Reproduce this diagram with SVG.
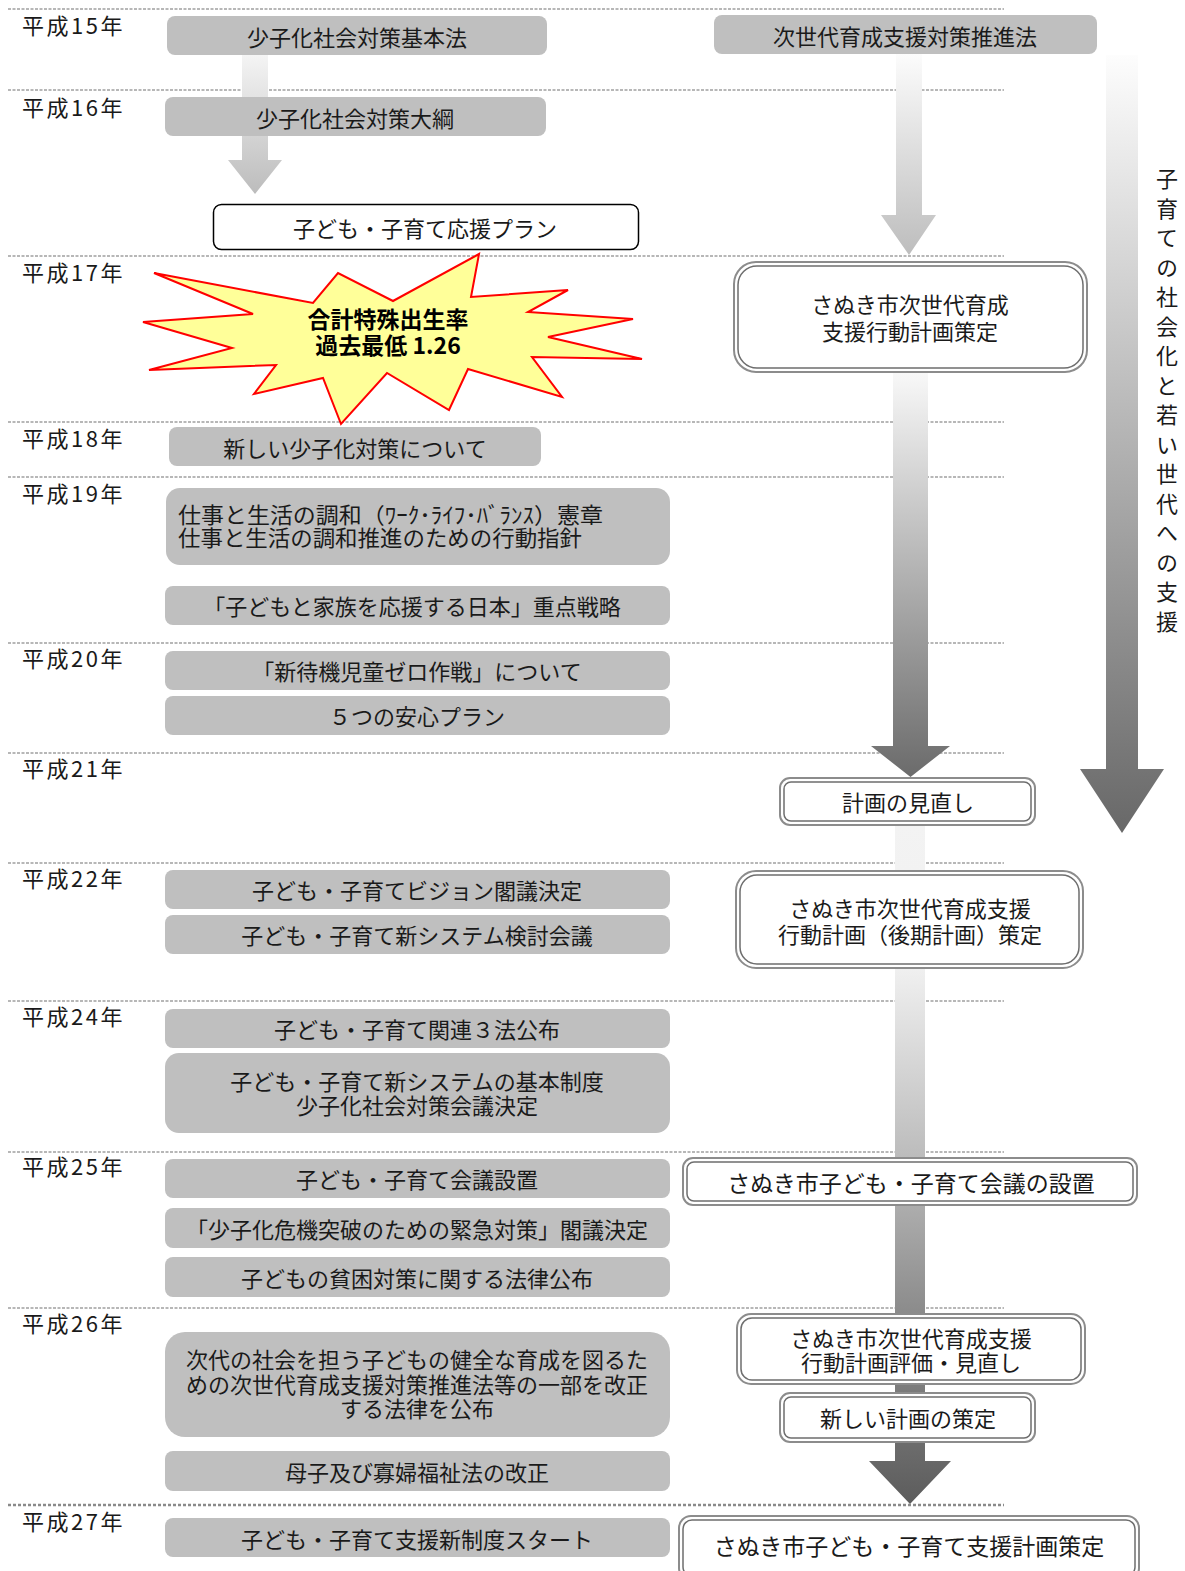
<svg xmlns="http://www.w3.org/2000/svg" width="1185" height="1571" viewBox="0 0 1185 1571">
<style>
text{font-family:"Noto Sans CJK JP","Noto Sans",sans-serif;fill:#1a1a1a}
.yr{font-size:22px;letter-spacing:2.5px;dominant-baseline:central}
.t{font-size:22px;text-anchor:middle;dominant-baseline:central}
.tl{font-size:22px;dominant-baseline:central}
.t24{font-size:23px;text-anchor:middle;dominant-baseline:central}
.bx{fill:#bfbfbf}
.sep{stroke:#a0a0a0;stroke-width:1.5;stroke-dasharray:3 1.5;fill:none}
.sep2{stroke:#8a8a8a;stroke-width:2.5;stroke-dasharray:3 2;fill:none}
.dbo{fill:#fff;stroke:#8c8c8c;stroke-width:2}
.dbi{fill:none;stroke:#6e6e6e;stroke-width:1.5}
.vt{font-size:22px;writing-mode:vertical-rl;letter-spacing:7.5px}
.bold{font-size:23px;font-weight:bold;text-anchor:middle;dominant-baseline:central;fill:#000}
</style>
<defs>
<linearGradient id="gL" gradientUnits="userSpaceOnUse" x1="0" y1="55" x2="0" y2="194"><stop offset="0" stop-color="#f4f4f4"/><stop offset="1" stop-color="#bcbcbc"/></linearGradient>
<linearGradient id="gA" gradientUnits="userSpaceOnUse" x1="0" y1="54" x2="0" y2="255"><stop offset="0" stop-color="#fcfcfc"/><stop offset="1" stop-color="#bdbdbd"/></linearGradient>
<linearGradient id="gB" gradientUnits="userSpaceOnUse" x1="0" y1="373" x2="0" y2="777"><stop offset="0" stop-color="#f8f8f8"/><stop offset="1" stop-color="#6b6b6b"/></linearGradient>
<linearGradient id="gC" gradientUnits="userSpaceOnUse" x1="0" y1="825" x2="0" y2="1504">
<stop offset="0" stop-color="#f3f3f3"/><stop offset="0.211" stop-color="#f0f0f0"/><stop offset="0.489" stop-color="#bcbcbc"/><stop offset="0.56" stop-color="#adadad"/><stop offset="0.719" stop-color="#8b8b8b"/><stop offset="0.822" stop-color="#7d7d7d"/><stop offset="0.907" stop-color="#6d6d6d"/><stop offset="1" stop-color="#5c5c5c"/></linearGradient>
<linearGradient id="gR" gradientUnits="userSpaceOnUse" x1="0" y1="55" x2="0" y2="833"><stop offset="0" stop-color="#fdfdfd"/><stop offset="1" stop-color="#686868"/></linearGradient>
</defs>

<g id="separators">
<line class="sep" x1="8" y1="9" x2="1004" y2="9"/>
<line class="sep" x1="8" y1="90" x2="1004" y2="90"/>
<line class="sep" x1="8" y1="256" x2="1004" y2="256"/>
<line class="sep" x1="8" y1="422" x2="1004" y2="422"/>
<line class="sep" x1="8" y1="477" x2="1004" y2="477"/>
<line class="sep" x1="8" y1="643" x2="1004" y2="643"/>
<line class="sep" x1="8" y1="753" x2="1004" y2="753"/>
<line class="sep" x1="8" y1="863" x2="1004" y2="863"/>
<line class="sep" x1="8" y1="1001" x2="1004" y2="1001"/>
<line class="sep" x1="8" y1="1152" x2="1004" y2="1152"/>
<line class="sep" x1="8" y1="1308" x2="1004" y2="1308"/>
<line class="sep2" x1="8" y1="1505" x2="1004" y2="1505"/>
</g>

<g id="years">
<text class="yr" x="22" y="24">平成15年</text>
<text class="yr" x="22" y="106">平成16年</text>
<text class="yr" x="22" y="271">平成17年</text>
<text class="yr" x="22" y="437">平成18年</text>
<text class="yr" x="22" y="492">平成19年</text>
<text class="yr" x="22" y="657">平成20年</text>
<text class="yr" x="22" y="767">平成21年</text>
<text class="yr" x="22" y="877">平成22年</text>
<text class="yr" x="22" y="1015">平成24年</text>
<text class="yr" x="22" y="1165">平成25年</text>
<text class="yr" x="22" y="1322">平成26年</text>
<text class="yr" x="22" y="1520">平成27年</text>
</g>

<g id="connectors">
<polygon fill="url(#gL)" points="242,55 268,55 268,160 282,160 255,194 228,160 242,160"/>
<polygon fill="url(#gA)" points="896,54 922,54 922,215 936,215 909,255 881,215 896,215"/>
<polygon fill="url(#gB)" points="893,373 928,373 928,746 950,746 910.5,777 871,746 893,746"/>
<polygon fill="url(#gC)" points="895,825 925,825 925,1461 951,1461 910,1504 869,1461 895,1461"/>
<polygon fill="url(#gR)" points="1106,55 1138,55 1138,769 1164,769 1122,833 1080,769 1106,769"/>
</g>

<g id="theme-label"><text class="vt" x="1167" y="168">子育ての社会化と若い世代への支援</text></g>

<g id="n-kihonhou"><rect class="bx" x="167" y="16" width="380" height="39" rx="8"/><text class="t" x="357" y="36">少子化社会対策基本法</text></g>
<g id="n-taikou"><rect class="bx" x="165" y="97" width="381" height="39" rx="8"/><text class="t" x="355" y="117">少子化社会対策大綱</text></g>
<g id="n-ouen-plan"><rect x="213.5" y="204.5" width="425" height="45" rx="8" fill="#fff" stroke="#000" stroke-width="1.5"/><text class="t" x="425" y="227">子ども・子育て応援プラン</text></g>
<g id="n-burst">
<polygon points="479,254 471,297 568,290 528,312 633,319 548,337 642,359 532,357 562,397 468,369 449,410 387,373 341,424 323,378 254,394 276,365 149,370 232,348 143,322 253,314 154,273 313,303 338,273 393,301" fill="#ffff99" stroke="#ff0000" stroke-width="2" stroke-linejoin="miter"/>
<text class="bold" x="388" y="318">合計特殊出生率</text>
<text class="bold" x="388" y="344">過去最低 1.26</text>
</g>
<g id="n-atarashii"><rect class="bx" x="169" y="427" width="372" height="39" rx="8"/><text class="t" x="355" y="447">新しい少子化対策について</text></g>
<g id="n-wlb"><rect class="bx" x="166" y="488" width="504" height="77" rx="14"/>
<text class="tl" x="178" y="513" textLength="425" lengthAdjust="spacingAndGlyphs">仕事と生活の調和（ﾜｰｸ･ﾗｲﾌ･ﾊﾞﾗﾝｽ）憲章</text>
<text class="tl" x="178" y="536" textLength="404" lengthAdjust="spacingAndGlyphs">仕事と生活の調和推進のための行動指針</text></g>
<g id="n-juten"><rect class="bx" x="165" y="586" width="505" height="39" rx="8"/><text class="t" x="412" y="605">「子どもと家族を応援する日本」重点戦略</text></g>
<g id="n-zero"><rect class="bx" x="165" y="651" width="505" height="39" rx="8"/><text class="t" x="417" y="670">「新待機児童ゼロ作戦」について</text></g>
<g id="n-anshin"><rect class="bx" x="165" y="696" width="505" height="39" rx="8"/><text class="t" x="417" y="715">５つの安心プラン</text></g>
<g id="n-vision"><rect class="bx" x="165" y="870" width="505" height="39" rx="8"/><text class="t" x="417" y="889">子ども・子育てビジョン閣議決定</text></g>
<g id="n-kentou"><rect class="bx" x="165" y="915" width="505" height="39" rx="8"/><text class="t" x="417" y="934">子ども・子育て新システム検討会議</text></g>
<g id="n-3hou"><rect class="bx" x="165" y="1009" width="505" height="39" rx="8"/><text class="t" x="417" y="1028">子ども・子育て関連３法公布</text></g>
<g id="n-kihonseido"><rect class="bx" x="165" y="1053" width="505" height="80" rx="14"/>
<text class="t" x="417" y="1080">子ども・子育て新システムの基本制度</text>
<text class="t" x="417" y="1104">少子化社会対策会議決定</text></g>
<g id="n-kaigi"><rect class="bx" x="165" y="1159" width="505" height="39" rx="8"/><text class="t" x="417" y="1178">子ども・子育て会議設置</text></g>
<g id="n-kinkyu"><rect class="bx" x="165" y="1208" width="505" height="40" rx="8"/><text class="t" x="417" y="1228">「少子化危機突破のための緊急対策」閣議決定</text></g>
<g id="n-hinkon"><rect class="bx" x="165" y="1257" width="505" height="40" rx="8"/><text class="t" x="417" y="1277">子どもの貧困対策に関する法律公布</text></g>
<g id="n-kaisei"><rect class="bx" x="165" y="1332" width="505" height="105" rx="20"/>
<text class="t" x="417" y="1358">次代の社会を担う子どもの健全な育成を図るた</text>
<text class="t" x="417" y="1383">めの次世代育成支援対策推進法等の一部を改正</text>
<text class="t" x="417" y="1407">する法律を公布</text></g>
<g id="n-boshi"><rect class="bx" x="165" y="1451" width="505" height="40" rx="8"/><text class="t" x="417" y="1471">母子及び寡婦福祉法の改正</text></g>
<g id="n-shinseido"><rect class="bx" x="165" y="1518" width="505" height="39" rx="8"/><text class="t" x="417" y="1538">子ども・子育て支援新制度スタート</text></g>

<g id="n-jisedai-hou"><rect class="bx" x="714" y="15" width="383" height="39" rx="8"/><text class="t" x="905" y="35">次世代育成支援対策推進法</text></g>
<g id="n-keikaku1"><rect class="dbo" x="734" y="262" width="353" height="110" rx="22"/><rect class="dbi" x="738" y="266" width="345" height="102" rx="19"/>
<text class="t" x="910" y="303">さぬき市次世代育成</text><text class="t" x="910" y="330">支援行動計画策定</text></g>
<g id="n-minaoshi"><rect class="dbo" x="780" y="778" width="255" height="47" rx="10"/><rect class="dbi" x="784" y="782" width="247" height="39" rx="7"/>
<text class="t" x="908" y="801">計画の見直し</text></g>
<g id="n-kouki"><rect class="dbo" x="736" y="871" width="347" height="97" rx="20"/><rect class="dbi" x="740" y="875" width="339" height="89" rx="17"/>
<text class="t" x="910" y="907">さぬき市次世代育成支援</text><text class="t" x="910" y="933">行動計画（後期計画）策定</text></g>
<g id="n-sanuki-kaigi"><rect class="dbo" x="683" y="1158" width="454" height="47" rx="10"/><rect class="dbi" x="687" y="1162" width="446" height="39" rx="7"/>
<text class="t24" x="911" y="1182">さぬき市子ども・子育て会議の設置</text></g>
<g id="n-hyouka"><rect class="dbo" x="737" y="1314" width="348" height="70" rx="14"/><rect class="dbi" x="741" y="1318" width="340" height="62" rx="11"/>
<text class="t" x="911" y="1337">さぬき市次世代育成支援</text><text class="t" x="911" y="1361">行動計画評価・見直し</text></g>
<g id="n-atarashii-keikaku"><rect class="dbo" x="780" y="1393" width="255" height="49" rx="10"/><rect class="dbi" x="784" y="1397" width="247" height="41" rx="7"/>
<text class="t" x="908" y="1417">新しい計画の策定</text></g>
<g id="n-shien-keikaku"><rect class="dbo" x="679" y="1516" width="460" height="64" rx="12"/><rect class="dbi" x="683" y="1520" width="452" height="56" rx="9"/>
<text class="t24" x="909" y="1545">さぬき市子ども・子育て支援計画策定</text></g>
</svg>
